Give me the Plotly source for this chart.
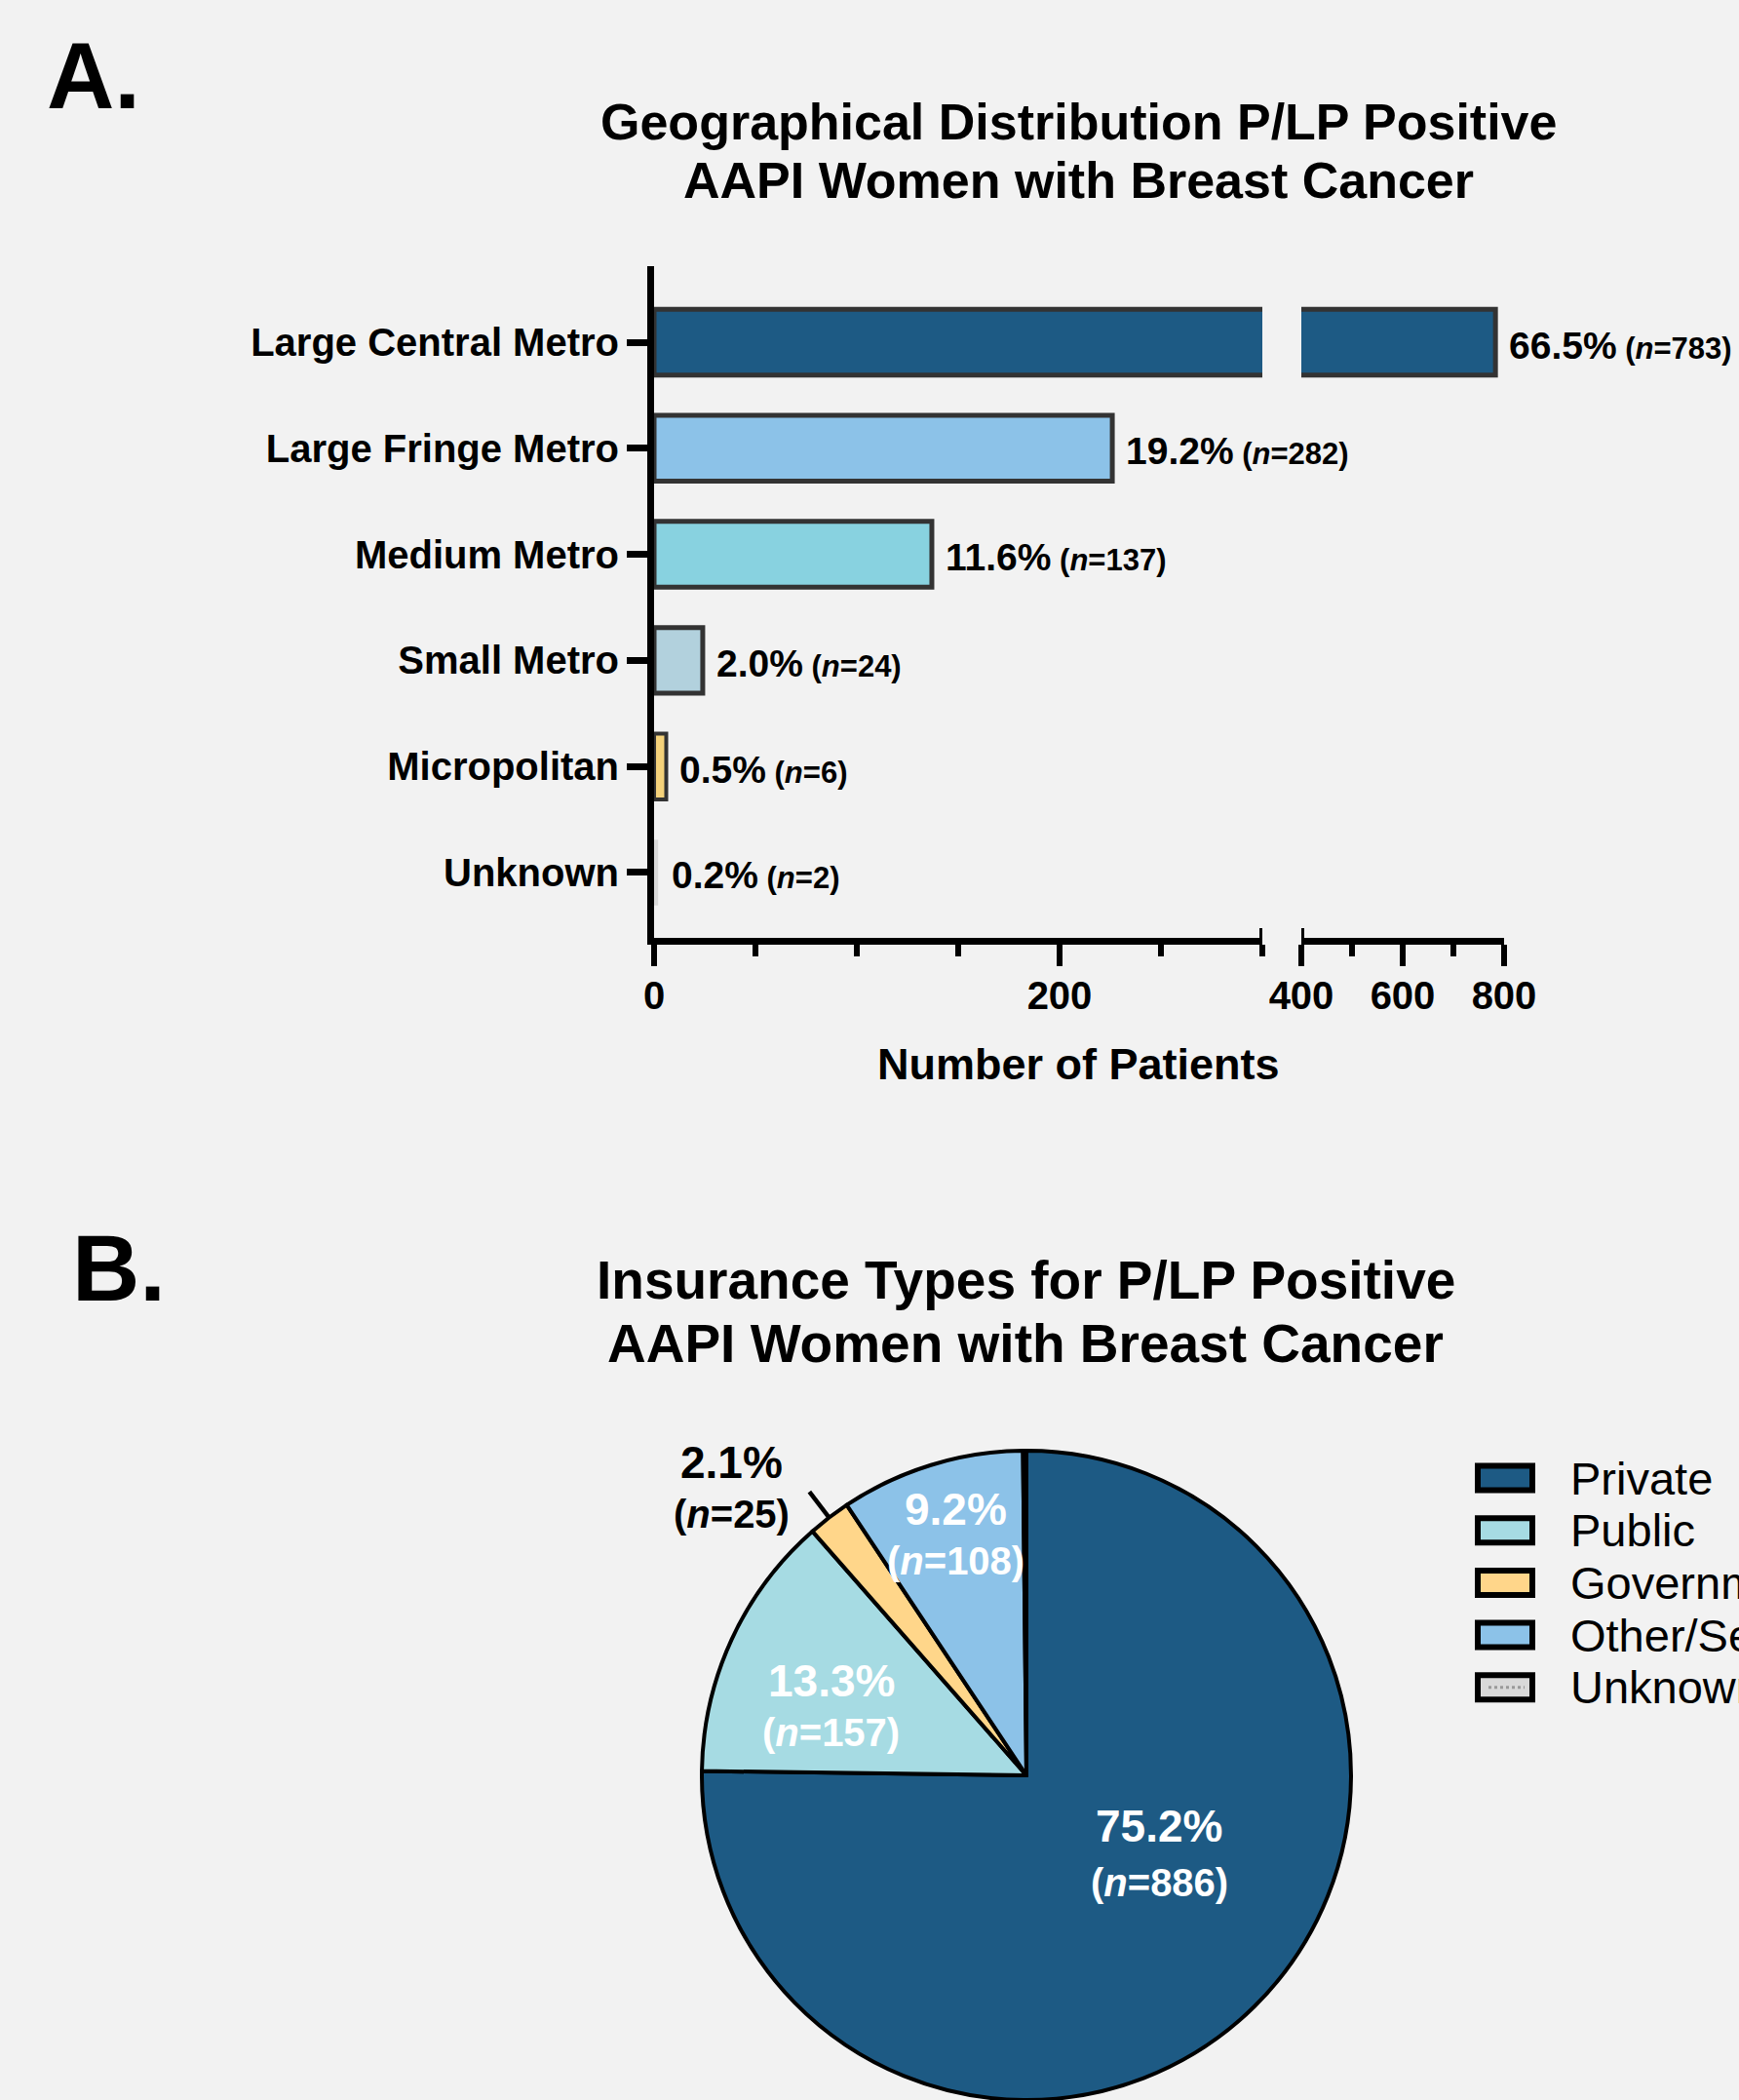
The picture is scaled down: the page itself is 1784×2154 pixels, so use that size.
import math
import plotly.graph_objects as go

# ---------------- Panel A data ----------------
geo_categories = ["Large Central Metro", "Large Fringe Metro", "Medium Metro",
                  "Small Metro", "Micropolitan", "Unknown"]
geo_counts = [783, 226, 137, 24, 6, 2]          # bar lengths as drawn
geo_pct_labels = ["66.5%", "19.2%", "11.6%", "2.0%", "0.5%", "0.2%"]
geo_n_labels = ["783", "282", "137", "24", "6", "2"]
geo_colors = ["#1D5A84", "#8CC2E8", "#88D2E0", "#B2D1DD", "#F5D27A", "#D9D9D9"]

x_ticks_low = [0, 200]
x_ticks_high = [400, 600, 800]

# ---------------- Panel B data ----------------
ins_labels = ["Private", "Public", "Government", "Other/Self-Pay", "Unknown"]
ins_counts = [886, 157, 25, 108, 2]
ins_pct_labels = ["75.2%", "13.3%", "2.1%", "9.2%", ""]
ins_colors = ["#1D5A84", "#A6DBE3", "#FFD68A", "#8CC2E8", "#D9D9D9"]

# ---------------- geometry helpers ----------------
W, H = 1784, 2154
FONT = "Liberation Sans, Arial, Helvetica, sans-serif"


def px(x):
    return x / W


def py(y):
    return 1 - y / H


LOW_MAX = 300    # end of first axis segment
HIGH_MIN = 400   # start of second axis segment

fig = go.Figure()

line_widths = [5, 5, 5, 5, 4, 0]
for axis in ["x", "x2"]:
    fig.add_trace(go.Bar(
        y=geo_categories, x=geo_counts, orientation="h", xaxis=axis, yaxis="y",
        width=0.62,
        marker=dict(color=geo_colors, line=dict(color="#333333", width=line_widths)),
        showlegend=False, hoverinfo="x+y",
    ))

tick_font = dict(family=FONT, size=40, color="black", weight="bold")
axis_common = dict(
    showgrid=False, zeroline=False, showline=True, linewidth=7, linecolor="black",
    ticks="outside", ticklen=22, tickwidth=6, tickcolor="black", ticklabelstandoff=-4,
    tickfont=tick_font, anchor="y", fixedrange=True, automargin=False,
)
fig.update_layout(
    xaxis=dict(domain=[px(671), px(1295)], range=[0, LOW_MAX], tickmode="array",
               tickvals=x_ticks_low, ticktext=[str(v) for v in x_ticks_low],
               minor=dict(dtick=50, tick0=0, ticklen=12, tickwidth=6,
                          tickcolor="black", ticks="outside"),
               **axis_common),
    xaxis2=dict(domain=[px(1335), px(1543)], range=[HIGH_MIN, 800], tickmode="array",
                tickvals=x_ticks_high, ticktext=[str(v) for v in x_ticks_high],
                minor=dict(dtick=100, tick0=400, ticklen=12, tickwidth=6,
                           tickcolor="black", ticks="outside"),
                **axis_common),
    yaxis=dict(domain=[py(962), py(273)], range=[5.616, -0.717], type="category",
               showgrid=False, zeroline=False, showline=True, linewidth=7,
               linecolor="black", ticks="outside", ticklen=21, tickwidth=7,
               tickcolor="black", tickfont=tick_font, anchor="x", fixedrange=True,
               automargin=False),
)

# broken-axis markers
for xref, xv in [("x", LOW_MAX), ("x2", HIGH_MIN)]:
    fig.add_shape(type="line", xref=xref, x0=xv, x1=xv, yref="paper",
                  ysizemode="pixel", yanchor=py(962), y0=-17, y1=10,
                  line=dict(color="black", width=6))

annotations = []

# bar value labels
for cat, val, pct, n in zip(geo_categories, geo_counts, geo_pct_labels, geo_n_labels):
    xref = "x2" if val > LOW_MAX else "x"
    annotations.append(dict(
        x=val, y=cat, xref=xref, yref="y", xanchor="left", yanchor="middle",
        xshift=12, yshift=-3, showarrow=False,
        text=f"<b>{pct}</b><span style='font-size:31px'><b> (<i>n</i>={n})</b></span>",
        font=dict(family=FONT, size=39, color="black"),
    ))

# panel A texts
annotations += [
    dict(x=px(46), y=py(77), xref="paper", yref="paper", xanchor="left", yanchor="middle",
         text="<b>A.</b>", showarrow=False, font=dict(family=FONT, size=96, color="black")),
    dict(x=px(1106), y=py(125), xref="paper", yref="paper", xanchor="center", yanchor="middle",
         text="<b>Geographical Distribution P/LP Positive</b>", showarrow=False,
         font=dict(family=FONT, size=52, color="black")),
    dict(x=px(1106), y=py(185), xref="paper", yref="paper", xanchor="center", yanchor="middle",
         text="<b>AAPI Women with Breast Cancer</b>", showarrow=False,
         font=dict(family=FONT, size=52, color="black")),
    dict(x=px(1106), y=py(1091), xref="paper", yref="paper", xanchor="center", yanchor="middle",
         text="<b>Number of Patients</b>", showarrow=False,
         font=dict(family=FONT, size=45, color="black")),
]

# ---------------- Panel B: pie ----------------
R = 333
CX, CY = 1053, H - R
fig.add_trace(go.Pie(
    labels=ins_labels, values=ins_counts, sort=False, direction="clockwise", rotation=0,
    domain=dict(x=[px(CX - R), px(CX + R)], y=[0, 2 * R / H]),
    marker=dict(colors=ins_colors, line=dict(color="black", width=4)),
    textinfo="none", showlegend=False, hoverinfo="label+value+percent",
    automargin=False,
))

annotations += [
    dict(x=px(72), y=py(1300), xref="paper", yref="paper", xanchor="left", yanchor="middle",
         text="<b>B.</b>", showarrow=False, font=dict(family=FONT, size=96, color="black")),
    dict(x=px(1052), y=py(1313), xref="paper", yref="paper", xanchor="center", yanchor="middle",
         text="<b>Insurance Types for P/LP Positive</b>", showarrow=False,
         font=dict(family=FONT, size=55, color="black")),
    dict(x=px(1052), y=py(1378), xref="paper", yref="paper", xanchor="center", yanchor="middle",
         text="<b>AAPI Women with Breast Cancer</b>", showarrow=False,
         font=dict(family=FONT, size=55, color="black")),
]

# pie slice labels, placed from the slice mid-angles
label_radius = [0.476, 0.637, 1.268, 0.772, None]
label_dtheta = [-14.6, -5.3, -8.4, 0.7, 0]
label_gap = [29, 26.5, 26.5, 26.5, 26.5]
label_color = ["white", "white", "black", "white", "black"]
total = sum(ins_counts)
cum = 0
for i, v in enumerate(ins_counts):
    frac = v / total
    mid = 2 * math.pi * (cum + frac / 2)
    cum += frac
    if label_radius[i] is None:
        continue
    th = mid + math.radians(label_dtheta[i])
    lx = CX + label_radius[i] * R * math.sin(th)
    ly = CY - label_radius[i] * R * math.cos(th)
    annotations.append(dict(
        x=px(lx), y=py(ly), xref="paper", yref="paper", xanchor="center", yanchor="middle",
        yshift=label_gap[i], showarrow=False, text=f"<b>{ins_pct_labels[i]}</b>",
        font=dict(family=FONT, size=46, color=label_color[i])))
    annotations.append(dict(
        x=px(lx), y=py(ly), xref="paper", yref="paper", xanchor="center", yanchor="middle",
        yshift=-label_gap[i], showarrow=False, text=f"<b>(<i>n</i>={v})</b>",
        font=dict(family=FONT, size=40, color=label_color[i])))
    if label_radius[i] > 1:
        # leader line at slice mid-angle
        x0 = CX + 1.0 * R * math.sin(mid)
        y0 = CY - 1.0 * R * math.cos(mid)
        x1 = CX + 1.10 * R * math.sin(mid)
        y1 = CY - 1.10 * R * math.cos(mid)
        fig.add_shape(type="line", xref="paper", yref="paper",
                      x0=px(x0), y0=py(y0), x1=px(x1), y1=py(y1),
                      line=dict(color="black", width=4.5))

# manual legend (large boxed swatches)
LEG_Y0, LEG_DY = 1516, 53.7
for i, (lab, col) in enumerate(zip(ins_labels, ins_colors)):
    yc = LEG_Y0 + i * LEG_DY
    fig.add_shape(type="rect", xref="paper", yref="paper",
                  x0=px(1516), x1=px(1572), y0=py(yc + 12.5), y1=py(yc - 12.5),
                  fillcolor=col, line=dict(color="black", width=6))
    if lab == "Unknown":
        fig.add_shape(type="line", xref="paper", yref="paper",
                      x0=px(1527), x1=px(1564), y0=py(yc), y1=py(yc),
                      line=dict(color="#9A9A9A", width=3, dash="dot"))
    annotations.append(dict(
        x=px(1609), y=py(yc), xref="paper", yref="paper", xanchor="left", yanchor="middle",
        text=lab, showarrow=False, font=dict(family=FONT, size=47, color="black")))

fig.update_layout(
    width=W, height=H, margin=dict(l=0, r=0, t=0, b=0, pad=0, autoexpand=False),
    paper_bgcolor="#F2F2F2", plot_bgcolor="#F2F2F2",
    annotations=annotations, bargap=0.3, showlegend=False,
    font=dict(family=FONT, color="black"),
)

fig.write_html("out.html", config={"displayModeBar": False},
               post_script="document.body.style.margin='0px';")
